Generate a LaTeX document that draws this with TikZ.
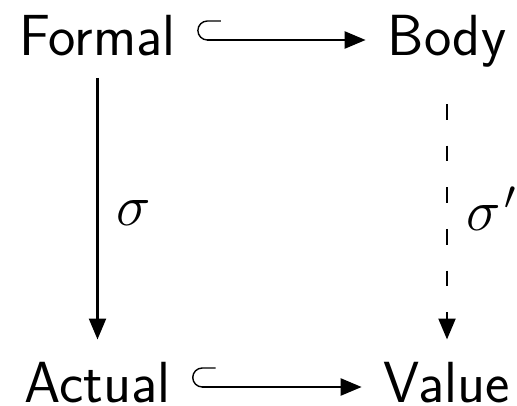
\documentclass[tikz,border=0pt]{standalone}
\usepackage{fix-cm}
\usepackage{tikz}
\usetikzlibrary{arrows.meta, positioning}

\begin{document}
\begin{tikzpicture}[
    font=\fontsize{33}{40}\selectfont\sffamily,
    obj/.style={anchor=base, inner sep=12.5pt},
    arr/.style={-{Triangle[length=11.9pt, width=9.7pt]}, line width=1.2pt},
    dasharr/.style={arr, dash pattern=on 8.9pt off 14.8pt, dash phase=15.2pt},
    hookline/.style={line width=0.8pt},
    lbl/.style={midway, anchor=base west, inner sep=0pt, xshift=0.36cm, yshift=-0.33cm}
]
\useasboundingbox (0,0) rectangle (10.34,8.1);

%% ---- objects ---------------------------------------------------
\node[obj] (formal) at (1.95,7.0)  {Formal};
\node[obj] (body)   at (8.94,7.0)  {Body};
\node[obj] (actual) at (1.95,0.06) {Actual};
\node[obj] (value)  at (8.94,0.06) {Value};

%% ---- inclusions (top and bottom rows) --------------------------
\coordinate (fhook) at ([xshift=0.19cm, yshift=0.3cm]formal.base east);
\coordinate (ahook) at ([xshift=0.19cm, yshift=0.3cm]actual.base east);
\coordinate (btip)  at ([yshift=0.3cm]body.base west);
\coordinate (vtip)  at ([yshift=0.3cm]value.base west);
\draw[hookline] (fhook) arc[start angle=270, end angle=90, radius=0.19] -- ++(0.27,0);
\draw[hookline] (ahook) arc[start angle=270, end angle=90, radius=0.19] -- ++(0.27,0);
\draw[arr] (fhook) -- (btip);
\draw[arr] (ahook) -- (vtip);

%% ---- substitutions (columns) -----------------------------------
\draw[arr]     (formal) -- node[lbl] {$\sigma$}  (actual);
\draw[dasharr] (body)   -- node[lbl] {$\sigma^{\mkern2mu\prime}$} (value);

\end{tikzpicture}
\end{document}
